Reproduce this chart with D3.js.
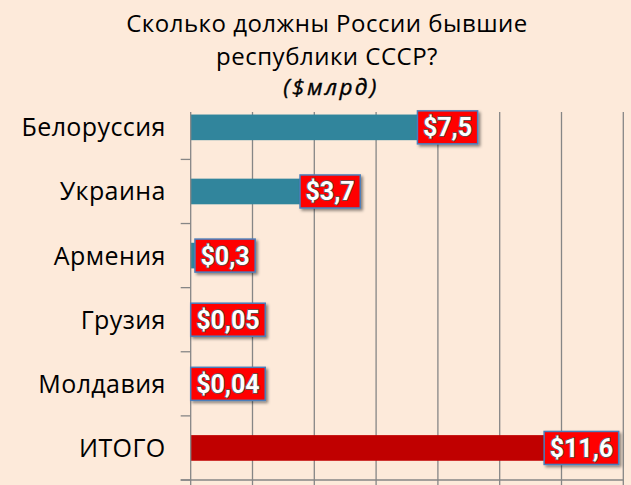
<!DOCTYPE html>
<html>
<head>
<meta charset="utf-8">
<script src="https://cdn.jsdelivr.net/npm/d3@7"></script>
<style>
  body { margin: 0; background: #fdeada; }
  svg { display: block; }
</style>
</head>
<body>
<svg id="chart" width="631" height="485"></svg>
<script>
// chart data
const categories = ["Белоруссия", "Украина", "Армения", "Грузия", "Молдавия", "ИТОГО"];
const values = [7.5, 3.7, 0.3, 0.05, 0.04, 11.6];
const valueLabels = ["$7,5", "$3,7", "$0,3", "$0,05", "$0,04", "$11,6"];
const xTicks = [0, 2, 4, 6, 8, 10, 12, 14];
const titleLines = ["Сколько должны России бывшие", "республики СССР?"];
const subtitle = "($млрд)";

const svg = d3.select("#chart");
const W = 631, H = 485;
const margin = {top: 95.3, left: 190.7, bottom: 480};

const x = d3.scaleLinear().domain([0, 14]).range([margin.left, 623.3]);
const y = d3.scaleBand().domain(categories)
    .range([margin.top, margin.bottom]).paddingInner(0.6).paddingOuter(0.3);

svg.append("rect").attr("width", W).attr("height", H).attr("fill", "#fdeada");

// drop shadow for the value boxes
const defs = svg.append("defs");
const f = defs.append("filter").attr("id", "shadow")
    .attr("x", "-20%").attr("y", "-20%").attr("width", "150%").attr("height", "150%");
f.append("feDropShadow").attr("dx", 2).attr("dy", 2).attr("stdDeviation", 1.5)
    .attr("flood-color", "#000").attr("flood-opacity", 0.45);

// gridlines
svg.append("g").selectAll("line")
    .data(xTicks.slice(1))
    .enter().append("line")
    .attr("x1", d => x(d)).attr("x2", d => x(d))
    .attr("y1", margin.top).attr("y2", margin.bottom)
    .attr("stroke", "#868686").attr("stroke-width", 1.3);

// title area covers the top of the gridlines
svg.append("rect").attr("x", 0).attr("y", 0).attr("width", W).attr("height", 112)
    .attr("fill", "#fdeada");

// bars
svg.append("g").selectAll("rect")
    .data(categories)
    .enter().append("rect")
    .attr("x", x(0))
    .attr("y", d => y(d))
    .attr("width", (d, i) => x(values[i]) - x(0))
    .attr("height", y.bandwidth())
    .attr("fill", d => d === "ИТОГО" ? "#c00000" : "#31859c");

// left axis
const yAxis = svg.append("g")
    .attr("transform", `translate(${x(0)},0)`);
yAxis.append("line").attr("x1", 0).attr("x2", 0).attr("y1", 112).attr("y2", margin.bottom)
    .attr("stroke", "#868686").attr("stroke-width", 1.3);
const bounds = categories.slice(1).map(d => y(d) - y.step() * y.paddingInner() / 2)
    .concat([margin.bottom]);
yAxis.selectAll("line.tick")
    .data(bounds)
    .enter().append("line")
    .attr("class", "tick")
    .attr("x1", -10).attr("x2", 0)
    .attr("y1", d => d).attr("y2", d => d)
    .attr("stroke", "#868686").attr("stroke-width", 1.3);
yAxis.selectAll("text")
    .data(categories)
    .enter().append("text")
    .attr("x", -25)
    .attr("y", d => y(d) + y.bandwidth() / 2)
    .attr("dy", "0.36em")
    .attr("text-anchor", "end")
    .style("font-family", "'Open Sans', sans-serif")
    .style("font-size", "25px")
    .style("letter-spacing", "0.4px")
    .attr("fill", "#000")
    .text(d => d);

// bottom axis
const xAxis = svg.append("g").attr("transform", `translate(0,${margin.bottom})`);
xAxis.append("line").attr("x1", x(0) - 10).attr("x2", x(14)).attr("y1", 0).attr("y2", 0)
    .attr("stroke", "#868686").attr("stroke-width", 1.3);
xAxis.selectAll("line.tick")
    .data(xTicks)
    .enter().append("line")
    .attr("class", "tick")
    .attr("x1", d => x(d)).attr("x2", d => x(d))
    .attr("y1", 0).attr("y2", 5)
    .attr("stroke", "#868686").attr("stroke-width", 1.3);

// value labels in red boxes
const labels = svg.append("g").selectAll("g")
    .data(categories)
    .enter().append("g");

labels.each(function(d, i) {
    const g = d3.select(this);
    const t = g.append("text")
        .attr("y", y(d) + y.bandwidth() / 2)
        .attr("dy", "0.36em")
        .style("font-family", "Roboto, sans-serif")
        .style("font-weight", "bold")
        .style("font-size", "25px")
        .attr("fill", "#fff")
        .attr("stroke", "#555")
        .attr("stroke-width", 1.6)
        .attr("paint-order", "stroke")
        .text(valueLabels[i]);
    const w = t.node().getComputedTextLength() + 11;
    const left = Math.max(x(0), x(values[i]) - 5);
    t.attr("x", left + 5.5);
    g.insert("rect", "text")
        .attr("x", left)
        .attr("y", y(d) + y.bandwidth() / 2 - 16.5)
        .attr("width", w)
        .attr("height", 33)
        .attr("fill", "#ff0000")
        .attr("stroke", "#4a7ebb")
        .attr("stroke-width", 1.5)
        .attr("filter", "url(#shadow)");
});

// title
const title = svg.append("g").attr("text-anchor", "middle")
    .style("font-family", "'Open Sans', sans-serif")
    .attr("fill", "#000");
title.selectAll("text.line")
    .data(titleLines)
    .enter().append("text")
    .attr("class", "line")
    .attr("x", 327)
    .attr("y", (d, i) => 31.5 + i * 33)
    .style("font-size", "24px")
    .style("letter-spacing", "0.5px")
    .text(d => d);
title.append("text")
    .attr("x", 331)
    .attr("y", 95)
    .style("font-size", "22.5px")
    .style("font-style", "italic")
    .style("letter-spacing", "2.4px")
    .attr("stroke", "#000")
    .attr("stroke-width", 0.4)
    .text(subtitle);
</script>
</body>
</html>
